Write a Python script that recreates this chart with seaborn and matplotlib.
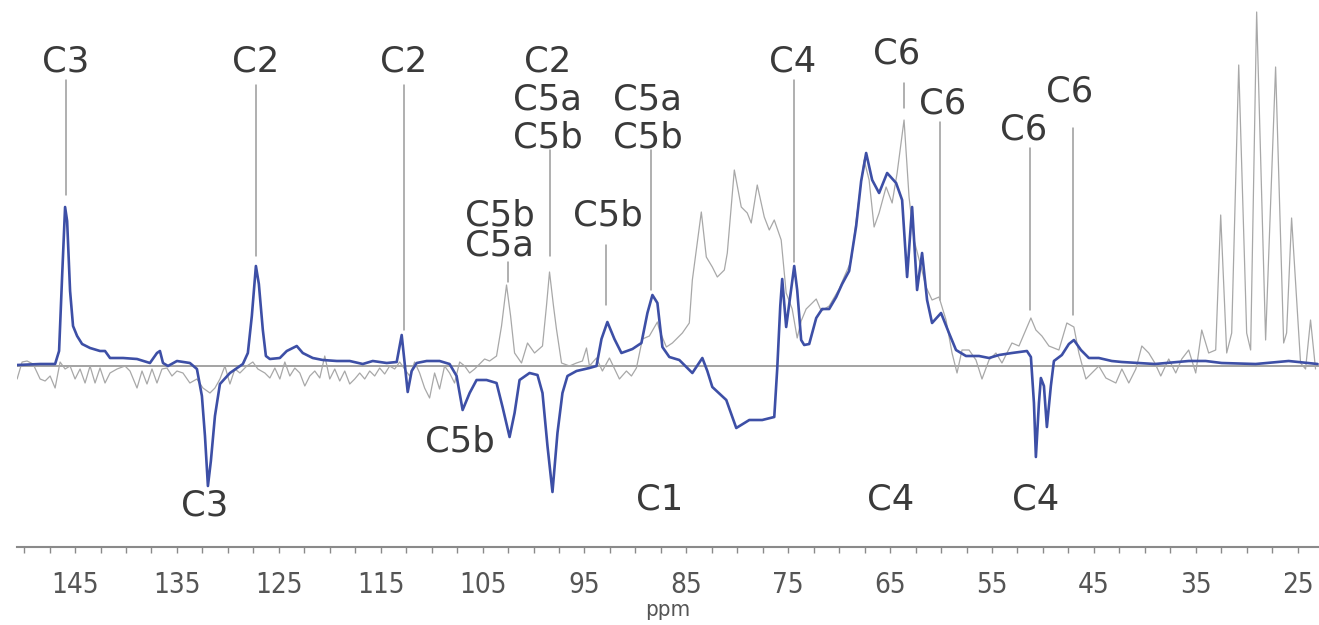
import numpy as np
import pandas as pd
import matplotlib
matplotlib.use("Agg")
import matplotlib.pyplot as plt
import seaborn as sns
from matplotlib.ticker import FixedLocator, MultipleLocator

# difference spectrum (blue), ppm / intensity (a.u.)
blue_ppm = [150.69, 148.43, 146.96, 146.57, 146.27, 145.98, 145.78, 145.49, 145.20, 144.80,
            144.31, 143.53, 142.55, 142.06, 141.57, 140.29, 138.92, 137.65, 136.96, 136.67,
            136.37, 135.88, 135.00, 133.73, 133.04, 132.55, 132.25, 131.96, 131.67, 131.27,
            130.78, 129.80, 128.53, 128.04, 127.65, 127.25, 126.96, 126.57, 126.27, 125.88,
            124.90, 124.22, 123.24, 122.65, 121.67, 120.69, 119.31, 118.04, 116.76, 115.78,
            114.41, 113.43, 112.94, 112.65, 112.35, 111.96, 111.47, 110.49, 109.22, 108.24,
            107.55, 106.96, 106.27, 105.59, 104.61, 103.63, 103.04, 102.35, 101.86, 101.37,
            100.39, 99.61, 99.12, 98.63, 98.14, 97.65, 97.16, 96.67, 95.78, 94.51,
            93.82, 93.33, 92.75, 92.06, 91.37, 90.29, 89.41, 88.82, 88.33, 87.84,
            87.35, 86.67, 85.69, 84.41, 83.43, 82.94, 82.45, 81.08, 80.10, 78.82,
            77.55, 76.37, 76.08, 75.78, 75.59, 75.20, 74.71, 74.41, 74.12, 73.73,
            73.43, 72.94, 72.25, 71.67, 70.98, 70.29, 69.71, 69.02, 68.33, 67.84,
            67.35, 66.76, 66.08, 65.29, 64.41, 63.82, 63.33, 62.84, 62.35, 61.86,
            61.37, 60.88, 60.00, 59.22, 58.53, 57.55, 56.27, 55.29, 54.31, 53.04,
            51.57, 51.18, 50.88, 50.69, 50.39, 50.20, 49.90, 49.61, 49.22, 48.92,
            48.14, 47.45, 46.96, 46.27, 45.49, 44.51, 43.24, 42.25, 39.01, 35.69,
            34.02, 32.45, 29.12, 25.88, 23.04]
blue_int = [1, 2, 2, 15, 90, 159, 145, 75, 40, 30,
            22, 18, 15, 15, 8, 8, 7, 3, 13, 15,
            3, 0, 5, 3, -3, -30, -70, -120, -95, -50,
            -18, -7, 2, 13, 50, 100, 82, 36, 10, 7,
            8, 15, 20, 13, 8, 6, 5, 5, 2, 5,
            3, 4, 31, 3, -26, -5, 3, 5, 5, 2,
            -10, -44, -27, -14, -14, -17, -41, -71, -47, -14,
            -7, -9, -27, -80, -126, -67, -27, -10, -5, -2,
            0, 27, 44, 27, 13, 17, 23, 53, 71, 63,
            19, 9, 6, -7, 8, -5, -21, -34, -62, -54,
            -54, -51, -3, 60, 87, 39, 77, 100, 76, 26,
            21, 22, 48, 57, 57, 69, 82, 95, 140, 185,
            213, 186, 173, 193, 183, 166, 89, 159, 76, 113,
            66, 43, 53, 33, 16, 10, 10, 8, 11, 13,
            15, 9, -37, -91, -37, -12, -20, -61, -20, 5,
            11, 22, 26, 16, 8, 8, 5, 4, 2, 5,
            5, 3, 2, 5, 2]

# reference spectrum (grey)
gray_ppm = [150.69, 150.20, 149.71, 149.12, 148.43, 147.94, 147.45, 146.96, 146.47, 145.98,
            145.49, 145.00, 144.51, 144.02, 143.53, 143.04, 142.55, 142.06, 141.57, 140.88,
            140.10, 139.61, 138.92, 138.43, 137.94, 137.45, 136.96, 136.47, 135.98, 135.49,
            135.00, 134.41, 133.73, 133.04, 132.45, 131.76, 131.27, 130.78, 130.29, 129.80,
            129.31, 128.82, 128.14, 127.55, 127.06, 126.37, 125.88, 125.39, 124.90, 124.41,
            123.92, 123.43, 122.94, 122.45, 121.96, 121.47, 120.98, 120.49, 120.00, 119.51,
            119.02, 118.53, 118.04, 117.55, 117.06, 116.57, 116.08, 115.59, 115.10, 114.61,
            114.12, 113.63, 113.14, 112.65, 112.16, 111.67, 111.18, 110.69, 110.20, 109.71,
            109.22, 108.73, 108.24, 107.75, 107.25, 106.76, 106.27, 105.78, 105.29, 104.80,
            104.31, 103.63, 103.14, 102.65, 102.25, 101.86, 101.18, 100.59, 99.90, 99.12,
            98.73, 98.43, 98.04, 97.75, 97.25, 96.47, 95.78, 95.20, 94.80, 94.51,
            93.82, 93.24, 92.55, 91.57, 90.88, 90.39, 89.90, 89.31, 88.63, 87.84,
            87.65, 86.96, 86.37, 85.39, 84.71, 84.41, 83.53, 83.04, 82.45, 81.96,
            81.27, 80.98, 80.29, 79.61, 79.02, 78.63, 78.04, 77.35, 76.86, 76.37,
            75.69, 75.20, 74.61, 74.12, 73.73, 73.24, 72.25, 71.76, 70.98, 70.00,
            69.51, 68.82, 68.24, 67.55, 67.06, 66.57, 66.08, 65.39, 64.80, 64.31,
            63.63, 63.14, 62.65, 61.96, 61.47, 60.88, 60.20, 59.51, 58.92, 58.43,
            57.94, 57.25, 56.57, 55.98, 55.29, 54.61, 54.02, 53.04, 52.35, 51.18,
            50.69, 50.10, 49.41, 48.43, 47.65, 46.96, 46.47, 45.78, 45.20, 44.51,
            43.82, 42.84, 42.25, 41.57, 40.88, 40.29, 39.61, 39.01, 38.43, 37.65,
            36.96, 36.37, 35.69, 35.00, 34.41, 33.73, 33.04, 32.55, 31.96, 31.47,
            30.78, 30.00, 29.61, 29.02, 28.14, 27.16, 26.37, 26.08, 25.59, 24.71,
            24.22, 23.73, 23.24]
gray_int = [-13, 4, 5, 2, -13, -15, -10, -22, 4, -3,
            0, -13, -3, -17, 0, -17, -2, -17, -7, -3,
            0, -5, -22, -5, -18, -3, -17, -3, -2, -10,
            -5, -7, -17, -13, -22, -27, -22, -13, 0, -18,
            -3, -7, 0, 4, -3, -7, -12, -2, -13, 4,
            -10, -2, -7, -20, -10, -5, -12, 10, -13, -3,
            -15, -5, -18, -13, -7, -13, -5, -10, -2, -8,
            0, -3, 4, -3, -10, 4, -7, -22, -32, -7,
            -23, 0, -7, -17, 4, 0, -7, -3, 2, 7,
            5, 10, 40, 81, 50, 13, 3, 23, 13, 20,
            60, 94, 60, 37, 3, 0, 3, 5, 18, 0,
            8, -5, 8, -13, -5, -10, -2, 27, 30, 44,
            36, 19, 23, 33, 43, 86, 154, 109, 99, 89,
            96, 113, 196, 159, 153, 143, 181, 149, 136, 146,
            126, 73, 57, 28, 45, 57, 67, 55, 60, 77,
            89, 105, 153, 206, 186, 139, 153, 179, 163, 193,
            246, 169, 126, 99, 79, 66, 69, 46, 13, -7,
            16, 16, 6, -13, 6, 13, 3, 23, 20, 48,
            36, 30, 20, 16, 43, 39, 13, -13, -7, 0,
            -12, -17, -3, -17, -3, 20, 13, 3, -10, 7,
            -7, 7, 16, -7, 36, 13, 16, 151, 13, 33,
            301, 33, 16, 354, 26, 299, 23, 33, 148, 3,
            -3, 46, -3]

# annotations: text, ppm, baseline height
label_text = ["C3", "C2", "C2", "C2", "C5a", "C5b", "C5b", "C5a", "C5b", "C5a", "C5b",
              "C4", "C6", "C6", "C6", "C6", "C3", "C5b", "C1", "C4", "C4"]
label_ppm = [145.88, 127.25, 112.75, 98.63, 98.63, 98.63, 103.33, 103.33, 92.75, 88.82, 88.82,
             74.61, 64.31, 59.80, 51.86, 47.35, 132.25, 107.25, 87.65, 64.98, 50.69]
label_y = [295, 295, 295, 295, 256, 219, 141, 110, 141, 256, 219,
           295, 303, 252, 226, 264, -150, -85, -144, -144, -144]

# leader lines: ppm, top, bottom
line_ppm = [145.88, 127.25, 112.75, 98.43, 102.55, 92.84, 88.43, 74.41, 63.63, 60.10, 51.27, 47.06]
line_top = [286, 281, 281, 216, 104, 121, 216, 286, 283, 244, 218, 238]
line_bot = [171, 110, 36, 110, 84, 61, 76, 104, 258, 66, 56, 51]

ticks = [145, 135, 125, 115, 105, 95, 85, 75, 65, 55, 45, 35, 25]

sns.set_style("white")
W, H = 1319, 625
fig = plt.figure(figsize=(W / 100, H / 100), dpi=100)
ax = fig.add_axes([17 / W, 78 / H, 1 - 17 / W, 547 / H])

blue_df = pd.DataFrame({"ppm": blue_ppm, "intensity": blue_int})
gray_df = pd.DataFrame({"ppm": gray_ppm, "intensity": gray_int})

ax.axhline(0, color="#8a8a8a", lw=1.1, zorder=1)
sns.lineplot(data=gray_df, x="ppm", y="intensity", ax=ax, color="#a8a8a8",
             lw=0.9, estimator=None, zorder=2)
sns.lineplot(data=blue_df, x="ppm", y="intensity", ax=ax, color="#3d4fa6",
             lw=1.9, estimator=None, zorder=3)

for p, t, b in zip(line_ppm, line_top, line_bot):
    ax.plot([p, p], [b, t], color="#9a9a9a", lw=1.1, zorder=1)

for s, p, y in zip(label_text, label_ppm, label_y):
    ax.text(p, y, s, ha="center", va="baseline", fontsize=25.5,
            color="#3a3a3a", family="DejaVu Sans")

ax.set_xlim(150.7, 22.9)
ax.set_ylim(-181, 366)

for side in ["top", "left", "right"]:
    ax.spines[side].set_visible(False)
ax.spines["bottom"].set_color("#8a8a8a")
ax.spines["bottom"].set_linewidth(1.5)
ax.set_yticks([])
ax.xaxis.set_major_locator(FixedLocator(ticks))
ax.xaxis.set_minor_locator(MultipleLocator(2.5))
ax.tick_params(axis="x", which="both", direction="out", length=4.5, width=1,
               color="#8a8a8a", bottom=True)
ax.tick_params(axis="x", which="major", pad=13, labelsize=20, labelcolor="#555555")
tick_font = ["DejaVu Sans", "Liberation Sans"]
for lab in ax.get_xticklabels():
    lab.set_family(tick_font)
    lab.set_stretch("condensed")
ax.set_xlabel("ppm", fontsize=16, color="#555555", family=tick_font,
              fontstretch="condensed", labelpad=0.5)
ax.set_ylabel("")

fig.savefig("out.png", dpi=100)
